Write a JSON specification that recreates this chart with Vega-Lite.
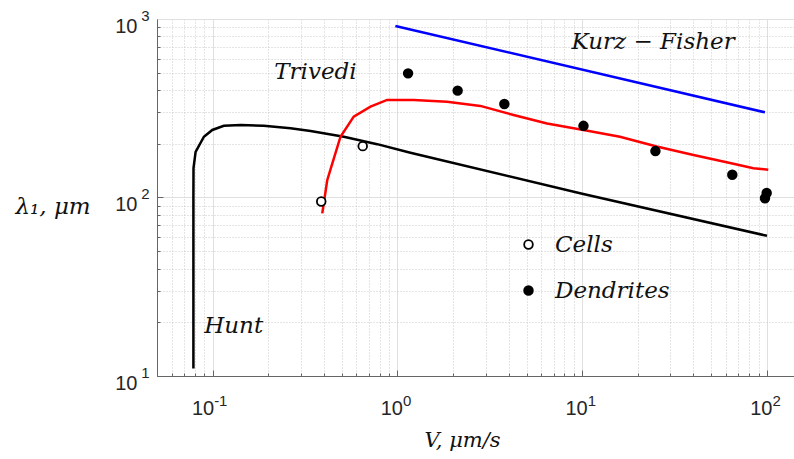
{
  "$schema": "https://vega.github.io/schema/vega-lite/v6.json",
  "width": 637,
  "height": 357,
  "autosize": "none",
  "padding": {"left": 157, "top": 19, "right": 0, "bottom": 83},
  "background": "white",
  "config": {"view": {"stroke": "#777", "strokeWidth": 1}, "font": "Liberation Sans"},
  "datasets": {
    "curves": [
      {"series": "Hunt", "i": 1, "V": 0.0787, "L": 11},
      {"series": "Hunt", "i": 2, "V": 0.0787, "L": 100},
      {"series": "Hunt", "i": 3, "V": 0.0788, "L": 146},
      {"series": "Hunt", "i": 4, "V": 0.0809, "L": 180},
      {"series": "Hunt", "i": 5, "V": 0.0897, "L": 219},
      {"series": "Hunt", "i": 6, "V": 0.0996, "L": 239},
      {"series": "Hunt", "i": 7, "V": 0.115, "L": 252},
      {"series": "Hunt", "i": 8, "V": 0.142, "L": 255},
      {"series": "Hunt", "i": 9, "V": 0.189, "L": 252},
      {"series": "Hunt", "i": 10, "V": 0.264, "L": 244},
      {"series": "Hunt", "i": 11, "V": 0.339, "L": 236},
      {"series": "Hunt", "i": 12, "V": 0.513, "L": 219},
      {"series": "Hunt", "i": 13, "V": 0.777, "L": 199},
      {"series": "Hunt", "i": 14, "V": 1.176, "L": 178},
      {"series": "Hunt", "i": 15, "V": 10, "L": 105},
      {"series": "Hunt", "i": 16, "V": 100, "L": 61},
      {"series": "Trivedi", "i": 1, "V": 0.392, "L": 81.5},
      {"series": "Trivedi", "i": 2, "V": 0.417, "L": 125},
      {"series": "Trivedi", "i": 3, "V": 0.444, "L": 155},
      {"series": "Trivedi", "i": 4, "V": 0.492, "L": 219},
      {"series": "Trivedi", "i": 5, "V": 0.58, "L": 284},
      {"series": "Trivedi", "i": 6, "V": 0.715, "L": 323},
      {"series": "Trivedi", "i": 7, "V": 0.88, "L": 352},
      {"series": "Trivedi", "i": 8, "V": 1.225, "L": 352},
      {"series": "Trivedi", "i": 9, "V": 1.856, "L": 344},
      {"series": "Trivedi", "i": 10, "V": 2.81, "L": 326},
      {"series": "Trivedi", "i": 11, "V": 4.25, "L": 290},
      {"series": "Trivedi", "i": 12, "V": 6.45, "L": 260},
      {"series": "Trivedi", "i": 13, "V": 10.16, "L": 239},
      {"series": "Trivedi", "i": 14, "V": 16, "L": 219},
      {"series": "Trivedi", "i": 15, "V": 25.3, "L": 193},
      {"series": "Trivedi", "i": 16, "V": 40, "L": 173},
      {"series": "Trivedi", "i": 17, "V": 63.1, "L": 156},
      {"series": "Trivedi", "i": 18, "V": 84.4, "L": 146},
      {"series": "Trivedi", "i": 19, "V": 101.6, "L": 143},
      {"series": "Kurz-Fisher", "i": 1, "V": 0.975, "L": 914},
      {"series": "Kurz-Fisher", "i": 2, "V": 97.5, "L": 300}
    ],
    "pts": [
      {"type": "Cells", "V": 0.387, "L": 95},
      {"type": "Cells", "V": 0.649, "L": 194},
      {"type": "Dendrites", "V": 1.142, "L": 496},
      {"type": "Dendrites", "V": 2.118, "L": 397},
      {"type": "Dendrites", "V": 3.79, "L": 334},
      {"type": "Dendrites", "V": 10.16, "L": 252},
      {"type": "Dendrites", "V": 24.9, "L": 182},
      {"type": "Dendrites", "V": 64.9, "L": 134},
      {"type": "Dendrites", "V": 99.6, "L": 106},
      {"type": "Dendrites", "V": 97.5, "L": 99}
    ],
    "notes": [
      {"label": "Trivedi", "V": 0.36, "L": 505},
      {"label": "Kurz − Fisher", "V": 24.2, "L": 743},
      {"label": "Hunt", "V": 0.13, "L": 19}
    ]
  },
  "layer": [
    {
      "data": {"name": "pts"},
      "mark": {"type": "point", "opacity": 0},
      "encoding": {
        "x": {"field": "V", "type": "quantitative", "scale": {"type": "log", "domain": [0.05, 140]},
          "axis": {"orient": "bottom", "values": [0.05,0.06,0.07,0.08,0.09,0.1,0.2,0.3,0.4,0.5,0.6,0.7,0.8,0.9,1,2,3,4,5,6,7,8,9,10,20,30,40,50,60,70,80,90,100],
            "labels": false, "domain": false, "title": null, "ticks": true,
            "tickSize": {"condition": {"test": "indexof([0.1,1,10,100], datum.value) >= 0", "value": -6}, "value": -3},
            "tickColor": "#666",
            "grid": true, "gridColor": "#c8c8c8", "gridDash": [1, 2], "gridWidth": 1,
            "gridOpacity": {"condition": {"test": "indexof([0.1,1,10,100], datum.value) >= 0", "value": 0}, "value": 1}}},
        "y": {"field": "L", "type": "quantitative", "scale": {"type": "log", "domain": [10, 1000]},
          "axis": {"orient": "left", "values": [20,30,40,50,60,70,80,90,100,200,300,400,500,600,700,800,900],
            "labels": false, "domain": false, "title": null, "ticks": true,
            "tickSize": {"condition": {"test": "datum.value == 100", "value": -6}, "value": -3},
            "tickColor": "#666",
            "grid": true, "gridColor": "#c8c8c8", "gridDash": [1, 2], "gridWidth": 1,
            "gridOpacity": {"condition": {"test": "datum.value == 100", "value": 0}, "value": 1}}}
      }
    },
    {
      "data": {"name": "pts"},
      "mark": {"type": "point", "opacity": 0},
      "encoding": {
        "x": {"field": "V", "type": "quantitative", "scale": {"type": "log", "domain": [0.05, 140]},
          "axis": {"orient": "bottom", "values": [0.1, 1, 10, 100], "grid": false, "domain": false, "ticks": false,
            "labelExpr": "datum.value < 0.5 ? '-1' : datum.value < 5 ? '0' : datum.value < 50 ? '1' : '2'",
            "labelFont": "Liberation Sans", "labelFontSize": 15, "labelColor": "#262626", "labelBaseline": "alphabetic",
            "labelAlign": "left",
            "labelOffset": {"condition": {"test": "datum.value < 0.5", "value": 1}, "value": 5},
            "labelPadding": 29, "labelFlush": false, "labelOverlap": false, "title": null}},
        "y": {"field": "L", "type": "quantitative", "scale": {"type": "log", "domain": [10, 1000]},
          "axis": {"orient": "left", "values": [10, 100, 1000], "grid": false, "domain": false, "ticks": false,
            "labelExpr": "datum.value < 50 ? '1' : datum.value < 500 ? '2' : '3'",
            "labelFont": "Liberation Sans", "labelFontSize": 15, "labelColor": "#262626", "labelBaseline": "alphabetic",
            "labelAlign": "right", "labelOffset": 1, "labelPadding": 8, "labelFlush": false, "labelOverlap": false, "title": null}}
      }
    },
    {
      "data": {"name": "curves"},
      "mark": {"type": "line"},
      "encoding": {
        "x": {"field": "V", "type": "quantitative", "scale": {"type": "log", "domain": [0.05, 140]},
          "axis": {"orient": "bottom", "values": [0.1, 1, 10, 100], "grid": true, "gridColor": "#e0e0e0", "gridWidth": 1,
            "ticks": false, "domain": true, "domainColor": "#666", "domainWidth": 1,
            "labelExpr": "'10'",
            "labelFont": "Liberation Sans", "labelFontSize": 20, "labelColor": "#262626", "labelBaseline": "alphabetic",
            "labelAlign": "right",
            "labelOffset": {"condition": {"test": "datum.value < 0.5", "value": 1}, "value": 5},
            "labelPadding": 38, "labelFlush": false, "labelOverlap": false,
            "title": "V, μm/s", "titleFont": "DejaVu Serif", "titleFontStyle": "italic", "titleFontWeight": "normal",
            "titleFontSize": 21, "titleColor": "#111", "titleX": 305, "titleY": 64, "titleAlign": "center", "titleBaseline": "middle"}},
        "y": {"field": "L", "type": "quantitative", "scale": {"type": "log", "domain": [10, 1000]},
          "axis": {"orient": "left", "values": [10, 100, 1000], "grid": true, "gridColor": "#e0e0e0", "gridWidth": 1,
            "ticks": false, "domain": true, "domainColor": "#666", "domainWidth": 1,
            "labelExpr": "'10'",
            "labelFont": "Liberation Sans", "labelFontSize": 20, "labelColor": "#262626", "labelBaseline": "alphabetic",
            "labelAlign": "right", "labelOffset": 13, "labelPadding": 20, "labelFlush": false, "labelOverlap": false,
            "title": "λ₁, μm", "titleFont": "DejaVu Serif", "titleFontStyle": "italic", "titleFontWeight": "normal",
            "titleFontSize": 23, "titleColor": "#111", "titleAngle": 0, "titleX": -142, "titleY": 187, "titleAlign": "left", "titleBaseline": "middle"}},
        "color": {"field": "series", "type": "nominal", "scale": {"domain": ["Hunt", "Trivedi", "Kurz-Fisher"], "range": ["#000000", "#ff0000", "#0000ff"]}, "legend": null},
        "strokeWidth": {"field": "series", "type": "nominal", "scale": {"domain": ["Hunt", "Trivedi", "Kurz-Fisher"], "range": [2.5, 2.5, 3]}, "legend": null},
        "order": {"field": "i", "type": "quantitative"}
      }
    },
    {
      "data": {"name": "pts"},
      "mark": {"type": "point", "shape": "circle", "size": 75, "stroke": "#000", "strokeWidth": 1.8, "opacity": 1},
      "encoding": {
        "x": {"field": "V", "type": "quantitative", "scale": {"type": "log", "domain": [0.05, 140]}, "axis": null},
        "y": {"field": "L", "type": "quantitative", "scale": {"type": "log", "domain": [10, 1000]}, "axis": null},
        "fill": {"field": "type", "type": "nominal", "scale": {"domain": ["Cells", "Dendrites"], "range": ["#ffffff", "#000000"]},
          "legend": {"orient": "none", "legendX": 360, "legendY": 214, "title": null, "padding": 0,
            "labelFont": "DejaVu Serif", "labelFontStyle": "italic", "labelFontSize": 23, "labelColor": "#111",
            "symbolType": "circle", "symbolSize": 75, "symbolStrokeColor": "#000", "symbolStrokeWidth": 1.8,
            "rowPadding": 22, "labelOffset": 15}}
      }
    },
    {
      "data": {"name": "notes"},
      "mark": {"type": "text", "font": "DejaVu Serif", "fontStyle": "italic", "fontSize": 23, "color": "#111", "align": "center", "baseline": "middle"},
      "encoding": {
        "x": {"field": "V", "type": "quantitative", "scale": {"type": "log", "domain": [0.05, 140]}, "axis": null},
        "y": {"field": "L", "type": "quantitative", "scale": {"type": "log", "domain": [10, 1000]}, "axis": null},
        "text": {"field": "label", "type": "nominal"}
      }
    }
  ],
  "resolve": {"axis": {"x": "independent", "y": "independent"}}
}
